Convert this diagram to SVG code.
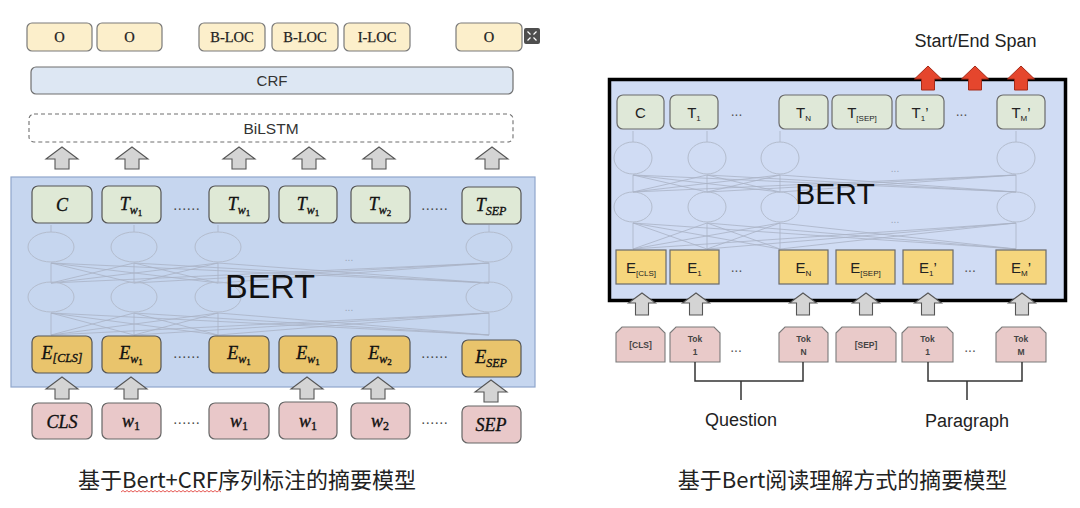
<svg xmlns="http://www.w3.org/2000/svg" xmlns:xlink="http://www.w3.org/1999/xlink" width="1080" height="508" viewBox="0 0 1080 508">
<style>
.lab{fill:#fcefcb;stroke:#7a7a7a;stroke-width:1.2}
.crf{fill:#dde7f3;stroke:#6f6f6f;stroke-width:1.2}
.bil{fill:#ffffff;stroke:#6f6f6f;stroke-width:1.1;stroke-dasharray:4 3}
.tg{fill:#dfe9d6;stroke:#555;stroke-width:1.2}
.eg{fill:#e9c46c;stroke:#555;stroke-width:1.2}
.pk{fill:#e9c8c9;stroke:#666;stroke-width:1.2}
.tg2{fill:#dfe8d8;stroke:#6a6a6a;stroke-width:1.2}
.eg2{fill:#f6d67d;stroke:#6a6a6a;stroke-width:1.2}
.pk2{fill:#e9cac9;stroke:#7a7a7a;stroke-width:1.1}
.arr{fill:#d4d4d4;stroke:#555;stroke-width:1.1}
.red{fill:#e5462d;stroke:#a52a18;stroke-width:1}
.sl{font-family:"Liberation Serif",serif;font-size:14.5px;fill:#222;text-anchor:middle;stroke:#222;stroke-width:0.25}
.ss{font-family:"Liberation Sans",Arial,sans-serif;fill:#333;text-anchor:middle}
.m{font-family:"Liberation Serif",serif;font-style:italic;font-size:18px;fill:#111;text-anchor:middle;stroke:#111;stroke-width:0.35}
.sub{font-size:12px}
.sub2{font-size:9px;font-style:normal}
.up{font-style:normal}
.dots{font-family:"Liberation Serif",serif;font-size:14px;fill:#444;text-anchor:middle;letter-spacing:1px}
.rd{font-family:"Liberation Sans",Arial,sans-serif;font-size:14px;fill:#555;text-anchor:middle}
.rt{font-family:"Liberation Sans",Arial,sans-serif;font-size:15px;fill:#222;text-anchor:middle}
.rs{font-size:8px}
.tok{font-family:"Liberation Sans",Arial,sans-serif;font-size:8.5px;font-weight:bold;fill:#444;text-anchor:middle}
.net{fill:none;stroke:#aab3c5;stroke-width:0.8}
.ell{fill:none;stroke:#b3bccd;stroke-width:1}
.fd{font-family:"Liberation Sans",Arial,sans-serif;font-size:10px;fill:#9aa5b8;text-anchor:middle}
.cap{font-family:"Noto Sans CJK SC","Noto Sans",sans-serif;font-size:22px;fill:#222;text-anchor:middle}
.br{fill:none;stroke:#333;stroke-width:1.5}
</style>
<defs>
<path id="ga" d="M0,0 L16,12 L7,12 L7,22 L-7,22 L-7,12 L-16,12 Z"/>
<path id="gb" d="M0,0 L13.5,10 L6.5,10 L6.5,22 L-6.5,22 L-6.5,10 L-13.5,10 Z"/>
<path id="ra" d="M0,0 L13.5,13 L6.5,13 L6.5,24 L-6.5,24 L-6.5,13 L-13.5,13 Z"/>
</defs>

<!-- ============ LEFT PANEL ============ -->
<g id="left-tags">
<g id="tag1"><rect class="lab" x="27" y="23" width="65" height="28" rx="5"/><text class="sl" x="59.5" y="42">O</text></g>
<g id="tag2"><rect class="lab" x="97" y="23" width="65" height="28" rx="5"/><text class="sl" x="129.5" y="42">O</text></g>
<g id="tag3"><rect class="lab" x="199" y="23" width="66" height="28" rx="5"/><text class="sl" x="232" y="42">B-LOC</text></g>
<g id="tag4"><rect class="lab" x="272" y="23" width="66" height="28" rx="5"/><text class="sl" x="305" y="42">B-LOC</text></g>
<g id="tag5"><rect class="lab" x="344" y="23" width="66" height="28" rx="5"/><text class="sl" x="377" y="42">I-LOC</text></g>
<g id="tag6"><rect class="lab" x="456" y="23" width="66" height="28" rx="5"/><text class="sl" x="489" y="42">O</text></g>
</g>
<g id="expand-icon">
<rect x="524" y="28" width="16" height="16" rx="2" fill="#4e4e4e"/>
<path d="M527.5,31.5 l3,3 M536.5,31.5 l-3,3 M527.5,40.5 l3,-3 M536.5,40.5 l-3,-3" stroke="#fff" stroke-width="1.2" fill="none"/>
</g>
<g id="crf"><rect class="crf" x="31" y="67" width="482" height="27" rx="5"/><text class="ss" x="272" y="86" font-size="15">CRF</text></g>
<g id="bilstm"><rect class="bil" x="29" y="114" width="484" height="28" rx="5"/><text class="ss" x="271" y="134" font-size="15.5">BiLSTM</text></g>

<g id="left-bert">
<rect x="11" y="177" width="524" height="210" fill="#c6d6ef" stroke="#90a6cb" stroke-width="1.2"/>
<path class="net" d="M51 225V232M134 225V232M218 225V232M489 225V232
M51 283L51 263M51 283L134 263M51 283L218 263M51 283L489 263
M134 283L51 263M134 283L134 263M134 283L218 263M134 283L489 263
M218 283L51 263M218 283L134 263M218 283L218 263M218 283L489 263
M489 283L51 263M489 283L134 263M489 283L218 263M489 283L489 263
M51 335L51 313M51 335L134 313M51 335L218 313M51 335L489 313
M134 335L51 313M134 335L134 313M134 335L218 313M134 335L489 313
M218 335L51 313M218 335L134 313M218 335L218 313M218 335L489 313
M489 335L51 313M489 335L134 313M489 335L218 313M489 335L489 313"/>
<ellipse class="ell" cx="51" cy="247" rx="23" ry="15"/>
<ellipse class="ell" cx="134" cy="247" rx="23" ry="15"/>
<ellipse class="ell" cx="218" cy="247" rx="23" ry="15"/>
<ellipse class="ell" cx="489" cy="247" rx="23" ry="15"/>
<ellipse class="ell" cx="51" cy="297" rx="23" ry="15"/>
<ellipse class="ell" cx="134" cy="297" rx="23" ry="15"/>
<ellipse class="ell" cx="218" cy="297" rx="23" ry="15"/>
<ellipse class="ell" cx="489" cy="297" rx="23" ry="15"/>
<text class="fd" x="349" y="261">...</text>
<text class="fd" x="349" y="311">...</text>
<text x="270" y="298" font-family="Liberation Sans,Arial,sans-serif" font-size="34" fill="#111" text-anchor="middle">BERT</text>
</g>

<g id="left-T">
<g id="lt1"><rect class="tg" x="32" y="186" width="60" height="37" rx="6"/><text class="m" x="62" y="211">C</text></g>
<g id="lt2"><rect class="tg" x="102" y="186" width="59" height="37" rx="6"/><text class="m" x="131" y="210">T<tspan class="sub" dy="4">w</tspan><tspan class="sub2" dy="2">1</tspan></text></g>
<text class="dots" x="187" y="210">......</text>
<g id="lt3"><rect class="tg" x="209" y="186" width="60" height="37" rx="6"/><text class="m" x="239" y="210">T<tspan class="sub" dy="4">w</tspan><tspan class="sub2" dy="2">1</tspan></text></g>
<g id="lt4"><rect class="tg" x="279" y="186" width="58" height="37" rx="6"/><text class="m" x="308" y="210">T<tspan class="sub" dy="4">w</tspan><tspan class="sub2" dy="2">1</tspan></text></g>
<g id="lt5"><rect class="tg" x="351" y="186" width="59" height="37" rx="6"/><text class="m" x="380" y="210">T<tspan class="sub" dy="4">w</tspan><tspan class="sub2" dy="2">2</tspan></text></g>
<text class="dots" x="435" y="210">......</text>
<g id="lt6"><rect class="tg" x="462" y="187" width="59" height="37" rx="6"/><text class="m" x="491" y="211">T<tspan class="sub" dy="4">SEP</tspan></text></g>
</g>

<g id="left-E">
<g id="le1"><rect class="eg" x="32" y="336" width="60" height="37" rx="6"/><text class="m" x="62" y="359">E<tspan class="sub" dy="3">[CLS]</tspan></text></g>
<g id="le2"><rect class="eg" x="102" y="336" width="59" height="37" rx="6"/><text class="m" x="131" y="359">E<tspan class="sub" dy="4">w</tspan><tspan class="sub2" dy="2">1</tspan></text></g>
<text class="dots" x="187" y="358">......</text>
<g id="le3"><rect class="eg" x="209" y="336" width="60" height="37" rx="6"/><text class="m" x="239" y="359">E<tspan class="sub" dy="4">w</tspan><tspan class="sub2" dy="2">1</tspan></text></g>
<g id="le4"><rect class="eg" x="279" y="336" width="58" height="37" rx="6"/><text class="m" x="308" y="359">E<tspan class="sub" dy="4">w</tspan><tspan class="sub2" dy="2">1</tspan></text></g>
<g id="le5"><rect class="eg" x="351" y="336" width="59" height="37" rx="6"/><text class="m" x="380" y="359">E<tspan class="sub" dy="4">w</tspan><tspan class="sub2" dy="2">2</tspan></text></g>
<text class="dots" x="435" y="358">......</text>
<g id="le6"><rect class="eg" x="462" y="340" width="59" height="37" rx="6"/><text class="m" x="491" y="363">E<tspan class="sub" dy="4">SEP</tspan></text></g>
</g>

<g id="left-in">
<g id="li1"><rect class="pk" x="32" y="403" width="60" height="36" rx="6"/><text class="m" x="62" y="428">CLS</text></g>
<g id="li2"><rect class="pk" x="102" y="403" width="59" height="36" rx="6"/><text class="m" x="131" y="427">w<tspan class="sub up" dy="3">1</tspan></text></g>
<text class="dots" x="187" y="424">......</text>
<g id="li3"><rect class="pk" x="209" y="403" width="60" height="36" rx="6"/><text class="m" x="239" y="427">w<tspan class="sub up" dy="3">1</tspan></text></g>
<g id="li4"><rect class="pk" x="279" y="402" width="58" height="37" rx="6"/><text class="m" x="308" y="427">w<tspan class="sub up" dy="3">1</tspan></text></g>
<g id="li5"><rect class="pk" x="351" y="403" width="59" height="36" rx="6"/><text class="m" x="380" y="427">w<tspan class="sub up" dy="3">2</tspan></text></g>
<text class="dots" x="435" y="424">......</text>
<g id="li6"><rect class="pk" x="462" y="406" width="59" height="37" rx="6"/><text class="m" x="491" y="431">SEP</text></g>
</g>

<g id="left-arrows" class="arr">
<use href="#ga" x="62" y="147"/>
<use href="#ga" x="132" y="147"/>
<use href="#ga" x="239" y="147"/>
<use href="#ga" x="309" y="147"/>
<use href="#ga" x="379" y="147"/>
<use href="#ga" x="492" y="147"/>
<use href="#ga" x="62" y="377"/>
<use href="#ga" x="131" y="377"/>
<use href="#ga" x="307" y="377"/>
<use href="#ga" x="378" y="377"/>
<use href="#ga" x="491" y="380"/>
</g>

<g id="left-caption">
<text class="cap" x="247" y="488">基于Bert+CRF序列标注的摘要模型</text>
<path d="M121,492 l2,-1.5 l2,1.5 l2,-1.5 l2,1.5 l2,-1.5 l2,1.5 l2,-1.5 l2,1.5 l2,-1.5 l2,1.5 l2,-1.5 l2,1.5 l2,-1.5 l2,1.5 l2,-1.5 l2,1.5 l2,-1.5 l2,1.5 l2,-1.5 l2,1.5 l2,-1.5 l2,1.5 l2,-1.5 l2,1.5 l2,-1.5 l2,1.5 l2,-1.5 l2,1.5 l2,-1.5 l2,1.5 l2,-1.5 l2,1.5 l2,-1.5 l2,1.5 l2,-1.5 l2,1.5 l2,-1.5 l2,1.5 l2,-1.5 l2,1.5 l2,-1.5 l2,1.5 l2,-1.5 l2,1.5 l2,-1.5 l2,1.5 l2,-1.5 l2,1.5 l2,-1.5 l2,1.5" fill="none" stroke="#e0302a" stroke-width="0.8"/>
</g>

<!-- ============ RIGHT PANEL ============ -->
<g id="span-label"><text x="975.5" y="47" font-family="Liberation Sans,Arial,sans-serif" font-size="18" fill="#222" text-anchor="middle">Start/End Span</text></g>

<g id="right-bert">
<rect x="609.5" y="79.5" width="456" height="221" fill="#d0dcf4" stroke="#000" stroke-width="3.5"/>
<path class="net" d="M633 131V142M707 131V142M780 131V142M1016 131V142
M633 192L633 175M633 192L707 175M633 192L780 175M633 192L1016 175
M707 192L633 175M707 192L707 175M707 192L780 175M707 192L1016 175
M780 192L633 175M780 192L707 175M780 192L780 175M780 192L1016 175
M1016 192L633 175M1016 192L707 175M1016 192L780 175M1016 192L1016 175
M633 249L633 223M633 249L707 223M633 249L780 223M633 249L1016 223
M707 249L633 223M707 249L707 223M707 249L780 223M707 249L1016 223
M780 249L633 223M780 249L707 223M780 249L780 223M780 249L1016 223
M1016 249L633 223M1016 249L707 223M1016 249L780 223M1016 249L1016 223"/>
<ellipse class="ell" cx="633" cy="158" rx="19" ry="16"/>
<ellipse class="ell" cx="707" cy="158" rx="19" ry="16"/>
<ellipse class="ell" cx="780" cy="158" rx="19" ry="16"/>
<ellipse class="ell" cx="1016" cy="158" rx="19" ry="16"/>
<ellipse class="ell" cx="633" cy="207" rx="19" ry="15"/>
<ellipse class="ell" cx="707" cy="207" rx="19" ry="15"/>
<ellipse class="ell" cx="780" cy="207" rx="19" ry="15"/>
<ellipse class="ell" cx="1016" cy="207" rx="19" ry="15"/>
<text class="fd" x="895" y="172">...</text>
<text class="fd" x="895" y="223">...</text>
<text x="835" y="204" font-family="Liberation Sans,Arial,sans-serif" font-size="30" fill="#111" text-anchor="middle">BERT</text>
</g>

<g id="right-T">
<g id="rt1"><rect class="tg2" x="617" y="95" width="47" height="34" rx="6"/><text class="rt" x="640.5" y="118">C</text></g>
<g id="rt2"><rect class="tg2" x="670" y="95" width="48" height="34" rx="6"/><text class="rt" x="694" y="118">T<tspan class="rs" dy="3">1</tspan></text></g>
<text class="rd" x="736.5" y="116">...</text>
<g id="rt3"><rect class="tg2" x="779" y="95" width="49" height="34" rx="6"/><text class="rt" x="803.5" y="118">T<tspan class="rs" dy="3">N</tspan></text></g>
<g id="rt4"><rect class="tg2" x="832" y="95" width="60" height="34" rx="6"/><text class="rt" x="862" y="118">T<tspan class="rs" dy="3">[SEP]</tspan></text></g>
<g id="rt5"><rect class="tg2" x="896" y="95" width="48" height="34" rx="6"/><text class="rt" x="920" y="118">T<tspan class="rs" dy="3">1</tspan><tspan dy="-3">’</tspan></text></g>
<text class="rd" x="961.5" y="116">...</text>
<g id="rt6"><rect class="tg2" x="997" y="95" width="48" height="34" rx="6"/><text class="rt" x="1021" y="118">T<tspan class="rs" dy="3">M</tspan><tspan dy="-3">’</tspan></text></g>
</g>

<g id="right-E">
<g id="re1"><rect class="eg2" x="616" y="250" width="50" height="34"/><text class="rt" x="641" y="273">E<tspan class="rs" dy="3">[CLS]</tspan></text></g>
<g id="re2"><rect class="eg2" x="670" y="250" width="49" height="34"/><text class="rt" x="694.5" y="273">E<tspan class="rs" dy="3">1</tspan></text></g>
<text class="rd" x="736.5" y="272">...</text>
<g id="re3"><rect class="eg2" x="779" y="250" width="49" height="34"/><text class="rt" x="803.5" y="273">E<tspan class="rs" dy="3">N</tspan></text></g>
<g id="re4"><rect class="eg2" x="836" y="250" width="59" height="34"/><text class="rt" x="865.5" y="273">E<tspan class="rs" dy="3">[SEP]</tspan></text></g>
<g id="re5"><rect class="eg2" x="903" y="250" width="50" height="34"/><text class="rt" x="928" y="273">E<tspan class="rs" dy="3">1</tspan><tspan dy="-3">’</tspan></text></g>
<text class="rd" x="970" y="272">...</text>
<g id="re6"><rect class="eg2" x="996" y="250" width="50" height="34"/><text class="rt" x="1021" y="273">E<tspan class="rs" dy="3">M</tspan><tspan dy="-3">’</tspan></text></g>
</g>

<g id="right-arrows">
<g class="arr">
<use href="#gb" x="642" y="293"/>
<use href="#gb" x="696" y="293"/>
<use href="#gb" x="803" y="293"/>
<use href="#gb" x="866" y="293"/>
<use href="#gb" x="928" y="293"/>
<use href="#gb" x="1022" y="293"/>
</g>
<g class="red">
<use href="#ra" x="928" y="66"/>
<use href="#ra" x="975" y="66"/>
<use href="#ra" x="1021" y="66"/>
</g>
</g>

<g id="right-tok">
<g id="tk1"><path class="pk2" d="M616,333 L622,327 L659,327 L665,333 L665,362 L616,362 Z"/><text class="tok" x="640.5" y="348" font-size="8">[CLS]</text></g>
<g id="tk2"><path class="pk2" d="M670,333 L676,327 L714,327 L720,333 L720,362 L670,362 Z"/><text class="tok" x="695" y="342">Tok</text><text class="tok" x="695" y="355">1</text></g>
<text class="rd" x="736" y="352">...</text>
<g id="tk3"><path class="pk2" d="M779,333 L785,327 L822,327 L828,333 L828,362 L779,362 Z"/><text class="tok" x="803.5" y="342">Tok</text><text class="tok" x="803.5" y="355">N</text></g>
<g id="tk4"><path class="pk2" d="M836,333 L842,327 L890,327 L896,333 L896,362 L836,362 Z"/><text class="tok" x="866" y="348">[SEP]</text></g>
<g id="tk5"><path class="pk2" d="M902,333 L908,327 L947,327 L953,333 L953,362 L902,362 Z"/><text class="tok" x="927.5" y="342">Tok</text><text class="tok" x="927.5" y="355">1</text></g>
<text class="rd" x="970" y="352">...</text>
<g id="tk6"><path class="pk2" d="M996,333 L1002,327 L1040,327 L1046,333 L1046,362 L996,362 Z"/><text class="tok" x="1021" y="342">Tok</text><text class="tok" x="1021" y="355">M</text></g>
</g>

<g id="connectors">
<path class="br" d="M695,362 V381 H803 V362 M741,381 V400"/>
<path class="br" d="M928,362 V381 H1022 V362 M967,381 V400"/>
</g>
<g id="question"><text x="741" y="426" font-family="Liberation Sans,Arial,sans-serif" font-size="18" fill="#222" text-anchor="middle">Question</text></g>
<g id="paragraph"><text x="967" y="427" font-family="Liberation Sans,Arial,sans-serif" font-size="18" fill="#222" text-anchor="middle">Paragraph</text></g>

<g id="right-caption"><text class="cap" x="842.5" y="488">基于Bert阅读理解方式的摘要模型</text></g>
</svg>
